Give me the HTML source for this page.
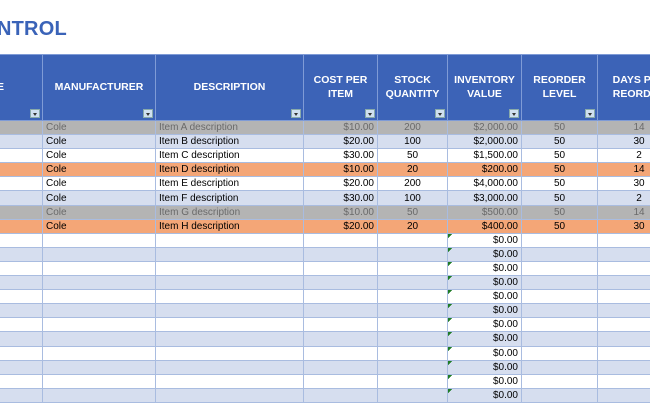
<!DOCTYPE html>
<html><head><meta charset="utf-8"><style>
body{margin:0;width:650px;height:400px;overflow:hidden;background:#fff;font-family:"Liberation Sans",Arial,sans-serif;position:relative}
.title{position:absolute;left:-3px;top:18px;font-size:20px;font-weight:bold;color:#3a63b8;letter-spacing:0.2px}
table{position:absolute;left:-18px;top:54px;border-collapse:collapse;table-layout:fixed;width:698px}
td,th{border:1px solid #a9bce0;padding:0 3px;font-size:10px;height:13.1px;line-height:13px;white-space:nowrap;overflow:hidden}
th{background:#3c63b7;color:#fff;font-size:10.5px;font-weight:bold;height:47px;border-color:#7f9bd6;position:relative;line-height:14px;vertical-align:middle;padding-bottom:10px;padding-top:8px}
th i{position:absolute;right:2px;bottom:2px;width:10px;height:9px;background:#cfe0f0;border:1px solid #8aa;box-sizing:border-box}
th i:after{content:"";position:absolute;left:2px;top:3px;border-left:2.5px solid transparent;border-right:2.5px solid transparent;border-top:3px solid #333}
.r{text-align:right}.c{text-align:center}
.g td{background:#b4b4b4;color:#6a6a6a}
.b td{background-color:#d6deef}
.o td{background:#f4a677}
.w td{background-color:#fff}
td.m{background-image:linear-gradient(135deg,#1e7b25 3px,transparent 3px);background-repeat:no-repeat;background-size:5px 5px}
</style></head><body>
<div class="title">NTROL</div>
<table>
<colgroup><col style="width:60px"><col style="width:113px"><col style="width:148px"><col style="width:74px"><col style="width:70px"><col style="width:74px"><col style="width:76px"><col style="width:83px"></colgroup>
<tr><th style="text-align:right;padding-right:38px">E<i></i></th><th>MANUFACTURER<i></i></th><th>DESCRIPTION<i></i></th><th>COST PER<br>ITEM<i></i></th><th>STOCK<br>QUANTITY<i></i></th><th>INVENTORY<br>VALUE<i></i></th><th>REORDER<br>LEVEL<i></i></th><th>DAYS PER<br>REORDER<i></i></th></tr>
<tr class="g"><td></td><td>Cole</td><td>Item A description</td><td class="r">$10.00</td><td class="c">200</td><td class="r">$2,000.00</td><td class="c">50</td><td class="c">14</td></tr>
<tr class="b"><td></td><td>Cole</td><td>Item B description</td><td class="r">$20.00</td><td class="c">100</td><td class="r">$2,000.00</td><td class="c">50</td><td class="c">30</td></tr>
<tr class="w"><td></td><td>Cole</td><td>Item C description</td><td class="r">$30.00</td><td class="c">50</td><td class="r">$1,500.00</td><td class="c">50</td><td class="c">2</td></tr>
<tr class="o"><td></td><td>Cole</td><td>Item D description</td><td class="r">$10.00</td><td class="c">20</td><td class="r">$200.00</td><td class="c">50</td><td class="c">14</td></tr>
<tr class="w"><td></td><td>Cole</td><td>Item E description</td><td class="r">$20.00</td><td class="c">200</td><td class="r">$4,000.00</td><td class="c">50</td><td class="c">30</td></tr>
<tr class="b"><td></td><td>Cole</td><td>Item F description</td><td class="r">$30.00</td><td class="c">100</td><td class="r">$3,000.00</td><td class="c">50</td><td class="c">2</td></tr>
<tr class="g"><td></td><td>Cole</td><td>Item G description</td><td class="r">$10.00</td><td class="c">50</td><td class="r">$500.00</td><td class="c">50</td><td class="c">14</td></tr>
<tr class="o"><td></td><td>Cole</td><td>Item H description</td><td class="r">$20.00</td><td class="c">20</td><td class="r">$400.00</td><td class="c">50</td><td class="c">30</td></tr>
<tr class="w"><td></td><td></td><td></td><td></td><td></td><td class="r m">$0.00</td><td></td><td></td></tr>
<tr class="b"><td></td><td></td><td></td><td></td><td></td><td class="r m">$0.00</td><td></td><td></td></tr>
<tr class="w"><td></td><td></td><td></td><td></td><td></td><td class="r m">$0.00</td><td></td><td></td></tr>
<tr class="b"><td></td><td></td><td></td><td></td><td></td><td class="r m">$0.00</td><td></td><td></td></tr>
<tr class="w"><td></td><td></td><td></td><td></td><td></td><td class="r m">$0.00</td><td></td><td></td></tr>
<tr class="b"><td></td><td></td><td></td><td></td><td></td><td class="r m">$0.00</td><td></td><td></td></tr>
<tr class="w"><td></td><td></td><td></td><td></td><td></td><td class="r m">$0.00</td><td></td><td></td></tr>
<tr class="b"><td></td><td></td><td></td><td></td><td></td><td class="r m">$0.00</td><td></td><td></td></tr>
<tr class="w"><td></td><td></td><td></td><td></td><td></td><td class="r m">$0.00</td><td></td><td></td></tr>
<tr class="b"><td></td><td></td><td></td><td></td><td></td><td class="r m">$0.00</td><td></td><td></td></tr>
<tr class="w"><td></td><td></td><td></td><td></td><td></td><td class="r m">$0.00</td><td></td><td></td></tr>
<tr class="b"><td></td><td></td><td></td><td></td><td></td><td class="r m">$0.00</td><td></td><td></td></tr>
</table>
</body></html>
